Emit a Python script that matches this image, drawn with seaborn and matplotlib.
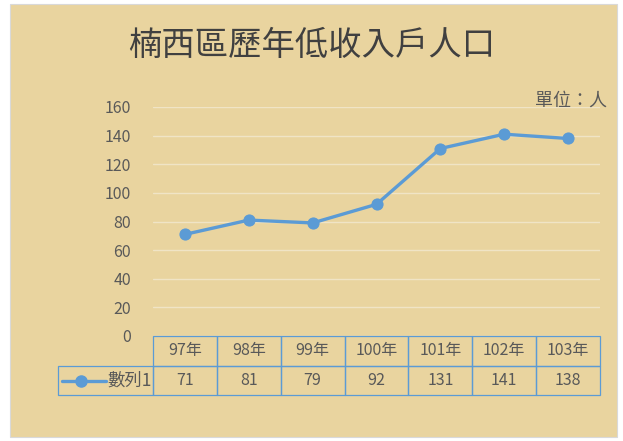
import matplotlib
matplotlib.use("Agg")
import matplotlib.pyplot as plt
import seaborn as sns
import pandas as pd
from matplotlib.patches import Rectangle
from matplotlib.lines import Line2D

# data
years = ['97年', '98年', '99年', '100年', '101年', '102年', '103年']
people = [71, 81, 79, 92, 131, 141, 138]
series_name = '數列1'

df = pd.DataFrame({'year': years, 'people': people})

sns.set_style('white')
plt.rcParams['font.family'] = ['Noto Sans CJK TC', 'DejaVu Sans']

BG = '#e9d49f'
LINE = '#5b9bd5'
TXT = '#595959'

fig = plt.figure(figsize=(6.23, 4.41), dpi=100)
fig.patch.set_facecolor('white')
# beige chart area with thin white margin
bg = Rectangle((10 / 623, 4 / 441), 607 / 623, 433 / 441,
               transform=fig.transFigure, facecolor=BG,
               edgecolor='#d9d9d9', lw=0.8, zorder=-10)
fig.patches.append(bg)

ax = fig.add_axes([153 / 623, 1 - 336 / 441, 447 / 623, 229 / 441])
ax.set_facecolor('none')

sns.lineplot(data=df, x='year', y='people', ax=ax, color=LINE, lw=2.4,
             marker='o', markersize=8, markeredgecolor=LINE, sort=False)

ax.set_xlim(-0.5, len(years) - 0.5)
ax.set_ylim(0, 160)
ax.set_yticks(range(0, 161, 20))
ax.grid(axis='y', color='#f0e4c6', lw=1)
ax.set_axisbelow(True)
ax.set_xticks([])
ax.set_xlabel('')
ax.set_ylabel('')
for s in ax.spines.values():
    s.set_visible(False)
ax.tick_params(axis='y', length=0, pad=16, labelsize=11.5, labelcolor=TXT)

# data table under the plot
tbl = ax.table(cellText=[[str(v) for v in people]], colLabels=years,
               rowLabels=[series_name], colWidths=[1 / 7] * 7,
               loc='bottom', cellLoc='center', rowLoc='right')
tbl.auto_set_font_size(False)
tbl._autoColumns = []  # keep the row label width fixed
row_h = 29.5 / 229
for (r, c), cell in tbl.get_celld().items():
    cell.set_edgecolor(LINE)
    cell.set_linewidth(0.9)
    cell.set_facecolor('none')
    cell.set_height(row_h)
    cell.get_text().set_fontsize(11.5)
    cell.get_text().set_color(TXT)
    if c == -1:
        cell.set_width(95 / 447)
        cell.PAD = 0.012
        cell.get_text().set_fontsize(12.5)

# legend glyph in the row label cell
ax.add_line(Line2D([-0.2036, -0.105], [-0.195, -0.195], transform=ax.transAxes,
                   color=LINE, lw=2.4, clip_on=False))
ax.add_line(Line2D([-0.16], [-0.195], transform=ax.transAxes, color=LINE,
                   marker='o', markersize=8, clip_on=False))

fig.text(312 / 623, 1 - 46 / 441, '楠西區歷年低收入戶人口', ha='center', va='center',
         fontsize=24, color='#404040')
fig.text(607 / 623, 1 - 101 / 441, '單位：人', ha='right', va='center',
         fontsize=13, color=TXT)

fig.savefig('out.png', dpi=100, facecolor=fig.get_facecolor())
